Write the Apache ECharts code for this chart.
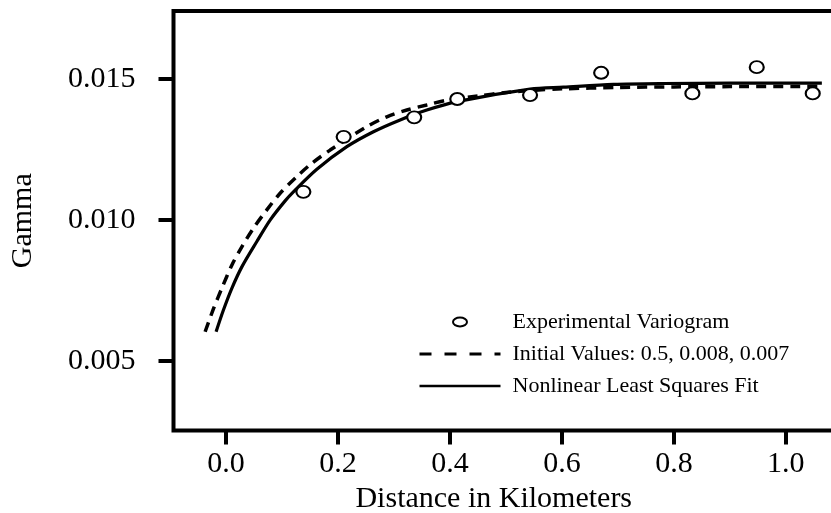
<!DOCTYPE html>
<html>
<head>
<meta charset="utf-8">
<script src="https://cdn.jsdelivr.net/npm/echarts@6/dist/echarts.min.js"></script>
<style>
html,body{margin:0;padding:0;background:#fff;}
#chart{width:831px;height:513px;}
</style>
</head>
<body>
<div id="chart"></div>
<script>
// ---- data ----
var seriesNames = ['Experimental Variogram', 'Initial Values: 0.5, 0.008, 0.007', 'Nonlinear Least Squares Fit'];
var xTicks = [0.0, 0.2, 0.4, 0.6, 0.8, 1.0];
var yTicks = [0.005, 0.010, 0.015];

var variogramDist  = [0.138, 0.210, 0.336, 0.413, 0.543, 0.670, 0.833, 0.948, 1.048];
var variogramGamma = [0.01100, 0.01295, 0.01364, 0.01429, 0.01443, 0.01522, 0.01449, 0.01542, 0.01449];

var initialDist  = [-0.0375, -0.0227, -0.0077, 0.0102, 0.0281, 0.0488, 0.0727, 0.0965, 0.1263, 0.1531, 0.1858, 0.2514, 0.2871, 0.3229, 0.3586, 0.3972, 0.45, 0.50, 0.55, 0.60, 0.70, 0.80, 0.90, 1.064];
var initialGamma = [0.00604, 0.00685, 0.00758, 0.00840, 0.00905, 0.00971, 0.01036, 0.01095, 0.01154, 0.01201, 0.01248, 0.01331, 0.01366, 0.01390, 0.01408, 0.01426, 0.01440, 0.01452, 0.01460, 0.01465, 0.01470, 0.01472, 0.01473, 0.01474];

var fitDist  = [-0.0179, -0.0048, 0.0102, 0.0281, 0.0549, 0.0786, 0.1054, 0.1202, 0.1621, 0.2157, 0.2632, 0.3109, 0.3586, 0.4122, 0.5431, 0.6026, 0.692, 0.7813, 0.9005, 1.0643];
var fitGamma = [0.00604, 0.00681, 0.00758, 0.00834, 0.00924, 0.01000, 0.01068, 0.01100, 0.01180, 0.01260, 0.01313, 0.01355, 0.01390, 0.01420, 0.01464, 0.01471, 0.01481, 0.01484, 0.01485, 0.01485];

function pairs(xs, ys) { return xs.map(function (x, i) { return [x, ys[i]]; }); }

var FONT = 'Liberation Serif';
var chart = echarts.init(document.getElementById('chart'), null, {renderer: 'canvas'});
chart.setOption({
  animation: false,
  backgroundColor: '#ffffff',
  grid: {
    left: 173.5, top: 11, width: 660.5, height: 419.5,
    show: true, borderColor: '#000', borderWidth: 4, backgroundColor: 'transparent',
    containLabel: false, outerBoundsMode: 'none'
  },
  xAxis: {
    type: 'value', min: -0.094, max: 1.086,
    name: 'Distance in Kilometers', nameLocation: 'middle', nameGap: 46.5,
    nameTextStyle: {fontFamily: FONT, fontSize: 30, color: '#000', padding: [0, 20, 0, 0]},
    axisLine: {show: false, onZero: false},
    axisTick: {show: true, length: 14, lineStyle: {color: '#000', width: 4}, customValues: xTicks},
    axisLabel: {margin: 18.5, fontFamily: FONT, fontSize: 30, color: '#000', customValues: xTicks,
      formatter: function (v) { return v.toFixed(1); }},
    splitLine: {show: false}
  },
  yAxis: {
    type: 'value', min: 0.00254, max: 0.01741,
    name: 'Gamma', nameLocation: 'middle', nameGap: 135,
    nameTextStyle: {fontFamily: FONT, fontSize: 30, color: '#000'},
    axisLine: {show: false, onZero: false},
    axisTick: {show: true, length: 15, lineStyle: {color: '#000', width: 4}, customValues: yTicks},
    axisLabel: {margin: 38, fontFamily: FONT, fontSize: 30, color: '#000', customValues: yTicks,
      formatter: function (v) { return v.toFixed(3); }},
    splitLine: {show: false}
  },
  legend: {
    orient: 'vertical', left: 418, top: 311, padding: 0,
    itemWidth: 81, itemHeight: 9, itemGap: 10,
    textStyle: {fontFamily: FONT, fontSize: 22, color: '#000', lineHeight: 22, padding: [0, 0, 0, 7]},
    data: [
      {name: seriesNames[0], icon: 'path://M0,4.5 A7,4.5 0 1,0 14,4.5 A7,4.5 0 1,0 0,4.5 Z',
        itemStyle: {color: '#fff', borderColor: '#000', borderWidth: 2}},
      {name: seriesNames[1], itemStyle: {opacity: 0}, lineStyle: {type: [12, 13], width: 3, color: '#000'}},
      {name: seriesNames[2], itemStyle: {opacity: 0}, lineStyle: {type: 'solid', width: 2.5, color: '#000'}}
    ]
  },
  series: [
    {
      name: seriesNames[1], type: 'line', data: pairs(initialDist, initialGamma),
      showSymbol: false, symbol: 'none', smooth: 0.3,
      lineStyle: {color: '#000', width: 3.5, type: [10, 7]}, itemStyle: {color: '#000'}, z: 2
    },
    {
      name: seriesNames[2], type: 'line', data: pairs(fitDist, fitGamma),
      showSymbol: false, symbol: 'none', smooth: 0.3,
      lineStyle: {color: '#000', width: 3.2, type: 'solid'}, itemStyle: {color: '#000'}, z: 3
    },
    {
      name: seriesNames[0], type: 'scatter', data: pairs(variogramDist, variogramGamma),
      symbol: 'circle', symbolSize: [14, 12],
      itemStyle: {color: '#fff', borderColor: '#000', borderWidth: 2, opacity: 1}, z: 4
    }
  ]
});
</script>
</body>
</html>
